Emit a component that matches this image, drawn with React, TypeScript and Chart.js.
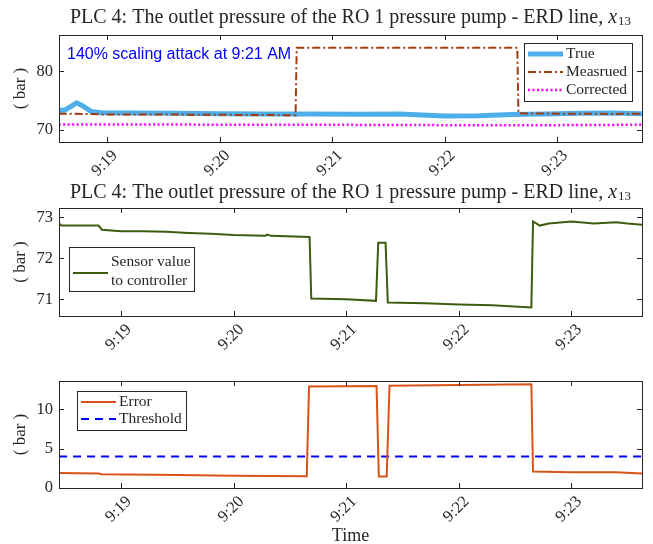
import React, { useEffect, useRef } from 'react';
import { Chart, registerables } from 'chart.js';

Chart.register(...registerables);

// ---------- data (time = minutes after 9:00) ----------
const xTickMinutes = [19, 20, 21, 22, 23];
const xTickLabels = ['9:19', '9:20', '9:21', '9:22', '9:23'];

const topYTicks = [70, 80];
const midYTicks = [71, 72, 73];
const botYTicks = [0, 5, 10];

const trueTime = [18.57, 18.62, 18.68, 18.73, 18.78, 18.86, 18.95, 19.2, 19.6, 20.0, 20.4, 20.8, 21.2, 21.6, 21.8, 22.0, 22.3, 22.6, 22.9, 23.2, 23.5, 23.76];
const trueValue = [73.4, 73.3, 74.0, 74.6, 74.1, 73.1, 72.9, 72.85, 72.8, 72.75, 72.7, 72.7, 72.65, 72.7, 72.5, 72.35, 72.4, 72.6, 72.7, 72.8, 72.85, 72.75];

const measuredTime = [18.57, 18.8, 19.0, 19.5, 20.0, 20.5, 20.675, 20.685, 21.5, 22.645, 22.655, 23.0, 23.5, 23.76];
const measuredValue = [72.75, 72.7, 72.6, 72.6, 72.55, 72.5, 72.45, 84.0, 84.0, 84.0, 72.8, 72.75, 72.7, 72.75];

const correctedTime = [18.57, 19.5, 20.5, 21.5, 22.0, 22.6, 23.2, 23.76];
const correctedValue = [70.9, 70.88, 70.85, 70.82, 70.78, 70.75, 70.8, 70.85];

const sensorTime = [18.45, 18.47, 18.8, 18.83, 19.0, 19.2, 19.4, 19.6, 19.8, 20.0, 20.28, 20.3, 20.33, 20.675, 20.69, 21.0, 21.265, 21.285, 21.35, 21.37, 21.7, 22.0, 22.3, 22.645, 22.66, 22.72, 22.8, 23.0, 23.2, 23.4, 23.5, 23.63];
const sensorValue = [72.85, 72.8, 72.8, 72.7, 72.66, 72.66, 72.65, 72.62, 72.6, 72.57, 72.55, 72.58, 72.55, 72.52, 71.02, 71.0, 70.96, 72.38, 72.38, 70.92, 70.9, 70.87, 70.85, 70.8, 72.9, 72.8, 72.85, 72.9, 72.85, 72.88, 72.85, 72.82];

const errorTime = [18.45, 18.8, 18.83, 19.5, 20.0, 20.65, 20.67, 21.0, 21.27, 21.29, 21.36, 21.385, 22.0, 22.645, 22.66, 23.0, 23.4, 23.63];
const errorValue = [1.9, 1.85, 1.75, 1.65, 1.55, 1.5, 12.9, 12.92, 12.95, 1.45, 1.45, 13.0, 13.1, 13.2, 2.1, 2.0, 2.0, 1.85];

const thresholdTime = [18.45, 23.63];
const thresholdValue = [4, 4];

const topXRange = [18.573, 23.753];
const midXRange = [18.449, 23.628];

// ---------- styling ----------
const SERIF = '"Liberation Serif", "Times New Roman", serif';
const SANS = '"Liberation Sans", Arial, sans-serif';
const AXIS = '#262626';
const TITLE = 'PLC 4: The outlet pressure of the RO 1 pressure pump - ERD line, ';

const pts = (t: number[], v: number[]) => t.map((x, i) => ({ x, y: v[i] }));

function line(ctx: CanvasRenderingContext2D, x1: number, y1: number, x2: number, y2: number) {
  ctx.beginPath();
  ctx.moveTo(x1, y1);
  ctx.lineTo(x2, y2);
  ctx.stroke();
}

const decorPlugin = {
  id: 'decor',
  afterDraw(chart: any, _a: any, o: any) {
    const ctx: CanvasRenderingContext2D = chart.ctx;
    const { left, right, top, bottom } = chart.chartArea;
    const oy = o.oy || 0;
    ctx.save();
    // axes box
    ctx.strokeStyle = AXIS;
    ctx.lineWidth = 1;
    ctx.setLineDash([]);
    ctx.strokeRect(Math.round(left) + 0.5, Math.round(top) + 0.5, Math.round(right - left), Math.round(bottom - top));
    const xs = chart.scales.x;
    const ys = chart.scales.y;
    const L = 5;
    xs.ticks.forEach((t: any) => {
      const p = Math.round(xs.getPixelForValue(t.value)) + 0.5;
      line(ctx, p, bottom, p, bottom - L);
      line(ctx, p, top, p, top + L);
    });
    ys.ticks.forEach((t: any) => {
      const p = Math.round(ys.getPixelForValue(t.value)) + 0.5;
      line(ctx, left, p, left + L, p);
      line(ctx, right, p, right - L, p);
    });

    // title
    if (o.titleY !== undefined) {
      ctx.fillStyle = AXIS;
      ctx.textBaseline = 'middle';
      ctx.textAlign = 'left';
      const f1 = `20px ${SERIF}`;
      const f2 = `italic 20px ${SERIF}`;
      const f3 = `13px ${SERIF}`;
      ctx.font = f1;
      const w1 = ctx.measureText(TITLE).width;
      ctx.font = f2;
      const w2 = ctx.measureText('x').width;
      ctx.font = f3;
      const w3 = ctx.measureText('13').width;
      const total = w1 + w2 + w3 + 1;
      let x = (left + right) / 2 - total / 2;
      const y = o.titleY - oy;
      ctx.font = f1;
      ctx.fillText(TITLE, x, y);
      x += w1;
      ctx.font = f2;
      ctx.fillText('x', x, y);
      x += w2 + 1;
      ctx.font = f3;
      ctx.fillText('13', x, y + 4);
    }

    // y label
    ctx.save();
    ctx.fillStyle = AXIS;
    ctx.font = `17px ${SERIF}`;
    ctx.textAlign = 'center';
    ctx.textBaseline = 'middle';
    ctx.translate(21, (top + bottom) / 2);
    ctx.rotate(-Math.PI / 2);
    ctx.fillText('( bar )', 0, 0);
    ctx.restore();

    // x label
    if (o.xLabel) {
      ctx.fillStyle = AXIS;
      ctx.font = `18px ${SERIF}`;
      ctx.textAlign = 'center';
      ctx.textBaseline = 'middle';
      ctx.fillText(o.xLabel.text, (left + right) / 2, o.xLabel.y - oy);
    }

    // annotation
    if (o.note) {
      ctx.fillStyle = '#0000FF';
      ctx.font = `16px ${SANS}`;
      ctx.textAlign = 'left';
      ctx.textBaseline = 'middle';
      ctx.fillText(o.note.text, o.note.x, o.note.y - oy);
    }

    // legend
    if (o.legend) {
      const lg = o.legend;
      ctx.fillStyle = '#ffffff';
      ctx.fillRect(lg.x, lg.y - oy, lg.w, lg.h);
      ctx.strokeStyle = AXIS;
      ctx.lineWidth = 1;
      ctx.setLineDash([]);
      ctx.strokeRect(lg.x + 0.5, lg.y - oy + 0.5, lg.w, lg.h);
      lg.items.forEach((it: any) => {
        ctx.strokeStyle = it.color;
        ctx.lineWidth = it.width;
        ctx.setLineDash(it.dash || []);
        line(ctx, lg.x1, it.y - oy, lg.x2, it.y - oy);
        ctx.setLineDash([]);
        ctx.fillStyle = AXIS;
        ctx.font = `15.5px ${SERIF}`;
        ctx.textAlign = 'left';
        ctx.textBaseline = 'middle';
        it.text.forEach((s: string, k: number) => {
          ctx.fillText(s, lg.tx, it.ty[k] - oy);
        });
      });
    }
    ctx.restore();
  },
};

function makeConfig(p: any) {
  const W = 653;
  return {
    type: 'line',
    data: { datasets: p.datasets },
    plugins: [decorPlugin],
    options: {
      animation: false,
      responsive: false,
      maintainAspectRatio: false,
      events: [],
      layout: { padding: { left: 0, right: W - p.right, top: p.top, bottom: 0 } },
      elements: { point: { radius: 0 }, line: { tension: 0 } },
      plugins: {
        legend: { display: false },
        title: { display: false },
        tooltip: { enabled: false },
        decor: p.decor,
      },
      scales: {
        x: {
          type: 'linear',
          min: p.xRange[0],
          max: p.xRange[1],
          afterBuildTicks: (s: any) => {
            s.ticks = xTickMinutes.map((v) => ({ value: v }));
          },
          ticks: {
            autoSkip: false,
            minRotation: 45,
            maxRotation: 45,
            padding: 4,
            labelOffset: 8,
            color: AXIS,
            font: { family: SERIF, size: 16.5 },
            callback: (_v: any, i: number) => xTickLabels[i],
          },
          grid: { display: false, drawTicks: false },
          border: { display: false },
          afterFit: (s: any) => {
            s.height = p.height - p.bottom;
            s.paddingLeft = 0;
            s.paddingRight = 0;
            s.paddingTop = 0;
            s.paddingBottom = 0;
          },
        },
        y: {
          type: 'linear',
          min: p.yRange[0],
          max: p.yRange[1],
          afterBuildTicks: (s: any) => {
            s.ticks = p.yTicks.map((v: number) => ({ value: v }));
          },
          ticks: {
            padding: 6,
            color: AXIS,
            font: { family: SERIF, size: 16.5 },
            callback: (v: any) => String(v),
          },
          grid: { display: false, drawTicks: false },
          border: { display: false },
          afterFit: (s: any) => {
            s.width = 59;
            s.paddingTop = 0;
            s.paddingBottom = 0;
            s.paddingLeft = 0;
            s.paddingRight = 0;
          },
        },
      },
    },
  };
}

const TRUE_C = '#4DAEEA';
const MEAS_C = '#A23B12';
const CORR_C = '#FF00FF';
const SENS_C = '#3D5C10';
const ERR_C = '#D95319';
const THR_C = '#0000FF';

const topCfg = () =>
  makeConfig({
    height: 180,
    top: 35,
    bottom: 142,
    right: 642,
    xRange: topXRange,
    yRange: [67.9, 86.2],
    yTicks: topYTicks,
    datasets: [
      { data: pts(correctedTime, correctedValue), borderColor: CORR_C, borderWidth: 2.5, borderDash: [2, 2.5], order: 1 },
      { data: pts(measuredTime, measuredValue), borderColor: MEAS_C, borderWidth: 2, borderDash: [8, 3, 2, 3], order: 2 },
      { data: pts(trueTime, trueValue), borderColor: TRUE_C, borderWidth: 5, order: 3 },
    ],
    decor: {
      oy: 0,
      titleY: 18,
      note: { text: '140% scaling attack at 9:21 AM', x: 67, y: 55 },
      legend: {
        x: 524, y: 43, w: 108, h: 58, x1: 528, x2: 563, tx: 566,
        items: [
          { color: TRUE_C, width: 5, text: ['True'], y: 54, ty: [54] },
          { color: MEAS_C, width: 2, dash: [8, 3, 2, 3], text: ['Measrued'], y: 72, ty: [72] },
          { color: CORR_C, width: 2.5, dash: [2, 2.5], text: ['Corrected'], y: 90, ty: [90] },
        ],
      },
    },
  });

const midCfg = () =>
  makeConfig({
    height: 190,
    top: 28,
    bottom: 136,
    right: 642,
    xRange: midXRange,
    yRange: [70.59, 73.23],
    yTicks: midYTicks,
    datasets: [{ data: pts(sensorTime, sensorValue), borderColor: SENS_C, borderWidth: 2 }],
    decor: {
      oy: 180,
      titleY: 193,
      legend: {
        x: 69, y: 247, w: 125, h: 44, x1: 73, x2: 108, tx: 111,
        items: [{ color: SENS_C, width: 2, text: ['Sensor value', 'to controller'], y: 273, ty: [262, 281] }],
      },
    },
  });

const botCfg = () =>
  makeConfig({
    height: 174,
    top: 11,
    bottom: 118,
    right: 642,
    xRange: midXRange,
    yRange: [0, 13.6],
    yTicks: botYTicks,
    datasets: [
      { data: pts(errorTime, errorValue), borderColor: ERR_C, borderWidth: 2 },
      { data: pts(thresholdTime, thresholdValue), borderColor: THR_C, borderWidth: 2, borderDash: [8, 6] },
    ],
    decor: {
      oy: 370,
      xLabel: { text: 'Time', y: 536 },
      legend: {
        x: 77, y: 391, w: 109, h: 39, x1: 81, x2: 116, tx: 119,
        items: [
          { color: ERR_C, width: 2, text: ['Error'], y: 402, ty: [402] },
          { color: THR_C, width: 2, dash: [8, 6], text: ['Threshold'], y: 419, ty: [419] },
        ],
      },
    },
  });

function Plot({ top, height, cfg }: { top: number; height: number; cfg: () => any }) {
  const ref = useRef<HTMLCanvasElement>(null);
  useEffect(() => {
    const chart = new Chart(ref.current as HTMLCanvasElement, cfg());
    return () => chart.destroy();
  }, []);
  return (
    <canvas
      ref={ref}
      width={653}
      height={height}
      style={{ position: 'absolute', left: 0, top, width: 653, height, display: 'block' }}
    />
  );
}

export default function App() {
  return (
    <div style={{ position: 'absolute', left: 0, top: 0, width: 653, height: 544, background: '#ffffff', overflow: 'hidden' }}>
      <Plot top={0} height={180} cfg={topCfg} />
      <Plot top={180} height={190} cfg={midCfg} />
      <Plot top={370} height={174} cfg={botCfg} />
    </div>
  );
}
